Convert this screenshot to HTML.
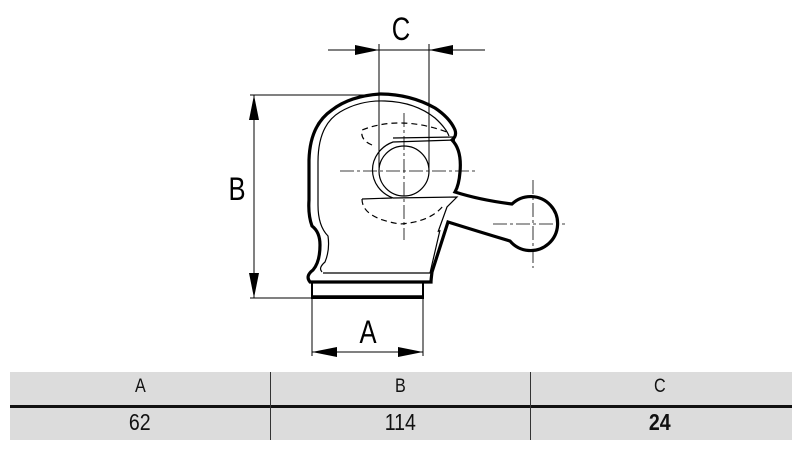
<!DOCTYPE html>
<html><head><style>
body{margin:0;background:#fff;width:800px;height:450px;overflow:hidden;font-family:"Liberation Sans",Arial,sans-serif}
svg{position:absolute;left:0;top:0}
.t{position:absolute;left:10px;top:372px;width:782px;height:68px;background:#dcdcdc}
.c{position:absolute;text-align:center;color:#111;width:260px}
.c span{display:inline-block;transform:scaleX(0.85)}
</style></head><body>
<svg width="800" height="450" viewBox="0 0 800 450" fill="none" stroke="#000">
<!-- body outer -->
<path d="M431,282 L310,282 Q305,276 313,270 Q320,262 320,245 Q320,232 312,226 Q308,215 309,200 L309,160 Q310,125 332,110 Q350,96 380,94 Q410,94 435,108 Q450,118 455,130 Q457,136 452,140 Q462,150 460,172 Q459,185 455,192 Q480,200 512,204 A27,27 0 1 1 510,241 Q480,232 448,222 L432,272 Q431,280 431,282 Z" stroke-width="3.2" fill="#fff"/>
<!-- dimension C -->
<line x1="328" y1="50" x2="485" y2="50" stroke-width="1"/>
<line x1="379" y1="44" x2="379" y2="168" stroke-width="1"/>
<line x1="429" y1="44" x2="429" y2="168" stroke-width="1"/>
<polygon points="379,50 355,45 355,55" fill="#000" stroke="none"/>
<polygon points="429,50 453,45 453,55" fill="#000" stroke="none"/>
<text transform="translate(401,40) scale(0.8,1)" font-size="32" fill="#000" stroke="none" text-anchor="middle">C</text>
<!-- dimension B -->
<line x1="250" y1="95" x2="368" y2="95" stroke-width="1"/>
<line x1="250" y1="298" x2="312" y2="298" stroke-width="1"/>
<line x1="254" y1="95" x2="254" y2="298" stroke-width="1"/>
<polygon points="254,95 249,120 259,120" fill="#000" stroke="none"/>
<polygon points="254,298 249,273 259,273" fill="#000" stroke="none"/>
<text transform="translate(237,200) scale(0.8,1)" font-size="32" fill="#000" stroke="none" text-anchor="middle">B</text>
<!-- dimension A -->
<line x1="312" y1="298" x2="312" y2="356" stroke-width="1"/>
<line x1="423" y1="298" x2="423" y2="356" stroke-width="1"/>
<line x1="312" y1="352" x2="423" y2="352" stroke-width="1"/>
<polygon points="312,352 337,347 337,357" fill="#000" stroke="none"/>
<polygon points="423,352 398,347 398,357" fill="#000" stroke="none"/>
<text transform="translate(368,343) scale(0.8,1)" font-size="32" fill="#000" stroke="none" text-anchor="middle">A</text>
<!-- base -->
<path d="M312,282 L312,298 L423,298 L423,282" stroke-width="2"/>
<line x1="312" y1="297" x2="423" y2="297" stroke-width="3.5"/>
<!-- inner body outline -->
<path d="M322,272 Q318,268 325,262 Q330,250 328,236 Q318,226 318,205 L318,162 Q318,125 340,112 Q360,100 385,101 Q415,102 435,118 Q446,128 449,136" stroke-width="1.2"/>
<path d="M323,273 L430,273 L440,230" stroke-width="1.2"/>
<!-- C ring -->
<path d="M455,140 L393,142 A32,30 0 0 0 393,198 L457,197 L447,207 L438,232" stroke-width="1.2"/>
<path d="M393,138 L455,137" stroke-width="1.2"/>
<circle cx="404" cy="171" r="25" stroke-width="1.2"/>
<!-- dashed arcs -->
<path d="M372,145 Q360,140 362,130 Q400,115 447,132" stroke-width="1.2" stroke-dasharray="6,4"/>
<path d="M362,199 Q362,218 400,224 Q430,222 443,206" stroke-width="1.2" stroke-dasharray="6,4"/>
<path d="M362,199 L392,198" stroke-width="1.2"/>
<!-- center lines -->
<line x1="340" y1="171" x2="476" y2="171" stroke-width="0.8" stroke-dasharray="14,3,3,3"/>
<line x1="404" y1="113" x2="404" y2="240" stroke-width="0.8" stroke-dasharray="14,3,3,3"/>
<line x1="493" y1="224" x2="565" y2="224" stroke-width="0.8" stroke-dasharray="14,3,3,3"/>
<line x1="533" y1="180" x2="533" y2="268" stroke-width="0.8" stroke-dasharray="14,3,3,3"/>
</svg>
<div class="t">
<div style="position:absolute;left:0;top:33px;width:782px;height:3px;background:#111"></div>
<div style="position:absolute;left:260px;top:0;width:1px;height:68px;background:#333"></div>
<div style="position:absolute;left:520px;top:0;width:1px;height:68px;background:#333"></div>
<div class="c" style="left:0;top:4px;font-size:19px"><span>A</span></div>
<div class="c" style="left:260px;top:4px;font-size:19px"><span>B</span></div>
<div class="c" style="left:520px;top:4px;font-size:19px"><span>C</span></div>
<div class="c" style="left:0;top:37px;font-size:23px"><span>62</span></div>
<div class="c" style="left:260px;top:37px;font-size:23px"><span>114</span></div>
<div class="c" style="left:520px;top:37px;font-size:23px;font-weight:bold"><span>24</span></div>
</div>
</body></html>
